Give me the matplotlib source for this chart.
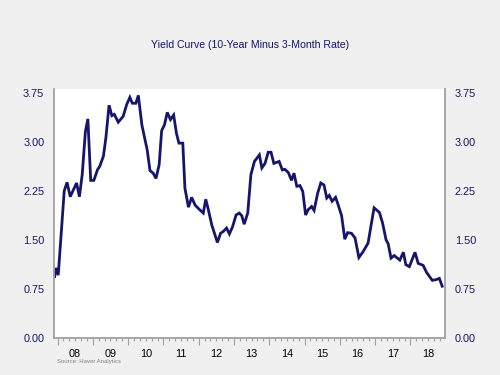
import matplotlib
matplotlib.use("Agg")
import matplotlib.pyplot as plt
import matplotlib.transforms as mtransforms
import numpy as np

# --- data: 10-year minus 3-month spread (decimal year, percent) ---
years = [
    2007.92, 2007.95, 2008.02, 2008.19, 2008.27, 2008.36, 2008.54, 2008.62, 2008.70, 2008.79,
    2008.86, 2008.94, 2009.03, 2009.13, 2009.20, 2009.30, 2009.37, 2009.46, 2009.54, 2009.61,
    2009.72, 2009.86, 2009.96, 2010.05, 2010.12, 2010.22, 2010.29, 2010.39, 2010.46, 2010.54,
    2010.62, 2010.71, 2010.79, 2010.88, 2010.95, 2011.03, 2011.11, 2011.20, 2011.29, 2011.37,
    2011.44, 2011.55, 2011.61, 2011.71, 2011.80, 2011.90, 2012.01, 2012.13, 2012.20, 2012.27,
    2012.37, 2012.53, 2012.62, 2012.70, 2012.79, 2012.87, 2012.96, 2013.06, 2013.15, 2013.22,
    2013.29, 2013.39, 2013.48, 2013.58, 2013.72, 2013.79, 2013.88, 2013.97, 2014.05, 2014.13,
    2014.28, 2014.37, 2014.44, 2014.54, 2014.63, 2014.70, 2014.78, 2014.87, 2014.95, 2015.03,
    2015.10, 2015.20, 2015.27, 2015.37, 2015.46, 2015.55, 2015.63, 2015.70, 2015.78, 2015.88,
    2015.95, 2016.05, 2016.14, 2016.22, 2016.33, 2016.43, 2016.54, 2016.66, 2016.80, 2016.97,
    2017.12, 2017.21, 2017.31, 2017.37, 2017.45, 2017.54, 2017.70, 2017.80, 2017.87, 2017.97,
    2018.13, 2018.22, 2018.36, 2018.46, 2018.62, 2018.72, 2018.82, 2018.90,
]
spread = [
    0.94, 1.07, 0.96, 2.25, 2.38, 2.16, 2.37, 2.16, 2.50, 3.16,
    3.35, 2.41, 2.41, 2.57, 2.63, 2.78, 3.06, 3.56, 3.40, 3.42,
    3.30, 3.39, 3.57, 3.68, 3.59, 3.59, 3.71, 3.26, 3.08, 2.88,
    2.56, 2.52, 2.44, 2.65, 3.17, 3.26, 3.45, 3.34, 3.41, 3.13,
    2.98, 2.98, 2.29, 2.00, 2.15, 2.03, 1.97, 1.91, 2.12, 1.97,
    1.73, 1.46, 1.60, 1.63, 1.68, 1.59, 1.70, 1.88, 1.91, 1.87,
    1.74, 1.91, 2.50, 2.70, 2.80, 2.60, 2.67, 2.84, 2.84, 2.67,
    2.70, 2.57, 2.58, 2.53, 2.41, 2.52, 2.32, 2.33, 2.24, 1.88,
    1.96, 2.01, 1.95, 2.21, 2.37, 2.34, 2.14, 2.18, 2.09, 2.15,
    2.04, 1.87, 1.51, 1.61, 1.60, 1.53, 1.23, 1.32, 1.45, 1.99,
    1.92, 1.76, 1.50, 1.44, 1.22, 1.26, 1.19, 1.31, 1.12, 1.09,
    1.31, 1.14, 1.11, 1.00, 0.88, 0.89, 0.91, 0.79,
]
year_labels = ["08", "09", "10", "11", "12", "13", "14", "15", "16", "17", "18"]
y_ticks = [0.00, 0.75, 1.50, 2.25, 3.00, 3.75]

NAVY = "#15156b"
SPINE = "#a0a0a0"
plt.rcParams["font.family"] = ["Liberation Sans", "DejaVu Sans"]

fig = plt.figure(figsize=(5, 3.75), dpi=100, facecolor="#f0f0f0")
ax = fig.add_axes([0.108, 0.099, 0.782, 0.664])
ax.set_facecolor("white")

ax.plot(years, spread, color=NAVY, linewidth=2.0, solid_joinstyle="miter")

# y axis: labels on both sides, no tick marks
ax.set_yticks(y_ticks)
ax.set_yticklabels([f"{v:.2f}" for v in y_ticks])
ax.tick_params(axis="y", length=0, labelsize=7.8, labelcolor=NAVY, pad=7,
               left=True, right=True, labelleft=True, labelright=True)

# x axis: year ticks long, two-month ticks short, labels centred mid-year
first = 2008
ax.set_xticks(np.arange(first, first + len(year_labels) + 1))
ax.set_xticks(np.arange(first, first + len(year_labels) + 1, 2 / 12), minor=True)
ax.xaxis.set_ticklabels([])
ax.tick_params(axis="x", which="major", length=5, width=0.8, color=SPINE)
ax.tick_params(axis="x", which="minor", length=2.5, width=0.8, color=SPINE)

# limits after the ticks, so the ticks don't widen the view
ax.set_xlim(2007.90, 2018.98)
ax.set_ylim(0, 3.81)

trans = mtransforms.blended_transform_factory(ax.transData, ax.transAxes)
for i, lab in enumerate(year_labels):
    ax.text(first + i + 0.5, -0.045, lab, transform=trans, ha="center", va="top",
            fontsize=7.8, color="black")

for side in ["left", "right", "bottom"]:
    ax.spines[side].set_color(SPINE)
    ax.spines[side].set_linewidth(1.3)
ax.spines["top"].set_visible(False)

fig.text(0.5, 0.88, "Yield Curve (10-Year Minus 3-Month Rate)", ha="center",
         va="center", fontsize=7.6, color=NAVY)
fig.text(0.114, 0.037, "Source: Haver Analytics", ha="left", va="center",
         fontsize=4.3, color="#808080")

fig.savefig("out.png", dpi=100, facecolor=fig.get_facecolor())
